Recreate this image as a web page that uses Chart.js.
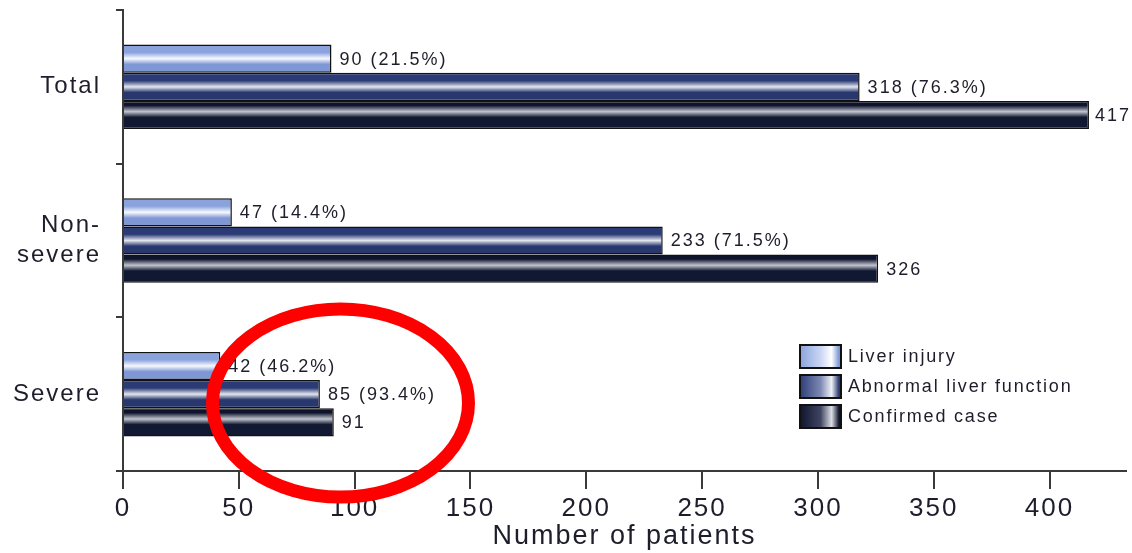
<!DOCTYPE html>
<html>
<head>
<meta charset="utf-8">
<script src="https://cdn.jsdelivr.net/npm/chart.js@4/dist/chart.umd.min.js"></script>
<style>
  body { margin: 0; background: #fff; }
  #wrap { width: 1132px; height: 553px; }
</style>
</head>
<body>
<div id="wrap"><canvas id="chartjs" width="1132" height="553"></canvas></div>
<script>
// data
const categories = ['Total', ['Non-', 'severe'], 'Severe'];
const seriesNames = ['Liver injury', 'Abnormal liver function', 'Confirmed case'];
const liverInjury = [90, 47, 42];
const abnormalLiver = [318, 233, 85];
const confirmedCase = [417, 326, 91];
const liverInjuryPct = ['21.5%', '14.4%', '46.2%'];
const abnormalLiverPct = ['76.3%', '71.5%', '93.4%'];
const xTicks = [0, 50, 100, 150, 200, 250, 300, 350, 400];

const textColor = '#1d1d2b';
const catPercent = 0.55;
// base, highlight, bottom, highlight position
const barColors = [
  ['#8aa3dd', '#f7f9ff', '#7f98d5', 0.5],
  ['#2b3b75', '#e4e6ee', '#28376e', 0.5],
  ['#0f142d', '#c2c5cf', '#111832', 0.38]
];

function barFill(c) {
  var chart = c.chart;
  var y = chart.scales.y;
  var col = barColors[c.datasetIndex];
  if (!y || c.dataIndex === undefined || !chart.chartArea) return col[0];
  var center = y.getPixelForValue(c.dataIndex);
  var group = (y.height / categories.length) * catPercent;
  var thick = group / 3;
  var top = center - group / 2 + c.datasetIndex * thick;
  var h = col[3];
  var g = chart.ctx.createLinearGradient(0, top, 0, top + thick);
  g.addColorStop(0, col[0]);
  g.addColorStop(h - 0.22, col[0]);
  g.addColorStop(h, col[1]);
  g.addColorStop(h + 0.2, col[2]);
  g.addColorStop(1, col[2]);
  return g;
}

const spacing = {
  id: 'spacing',
  beforeDraw(chart) { chart.ctx.letterSpacing = '2px'; }
};

// value labels at bar ends
const valueLabels = {
  id: 'valueLabels',
  afterDatasetsDraw(chart) {
    var ctx = chart.ctx;
    var pcts = [liverInjuryPct, abnormalLiverPct, null];
    ctx.save();
    ctx.letterSpacing = '2px';
    ctx.font = '18px "Liberation Sans", Arial, sans-serif';
    ctx.fillStyle = textColor;
    ctx.textBaseline = 'middle';
    ctx.textAlign = 'left';
    chart.data.datasets.forEach(function (ds, di) {
      chart.getDatasetMeta(di).data.forEach(function (bar, i) {
        var txt = String(ds.data[i]);
        if (pcts[di]) txt += ' (' + pcts[di][i] + ')';
        var w = ctx.measureText(txt).width;
        var x = Math.min(bar.x + 8, chart.width - w - 1);
        ctx.fillText(txt, x, bar.y + 1);
      });
    });
    ctx.restore();
  }
};

// legend inside the plot, bottom right
const boxLegend = {
  id: 'boxLegend',
  afterDraw(chart) {
    var ctx = chart.ctx;
    var legendStops = [
      ['#8ba4dd', '#c9d5f3', '#ffffff', '#7f98d4'],
      ['#2d3d77', '#7d88b2', '#eef0f5', '#2a3970'],
      ['#10152f', '#3f4560', '#dcdde2', '#10152f']
    ];
    ctx.save();
    ctx.letterSpacing = '1.8px';
    ctx.font = '18px "Liberation Sans", Arial, sans-serif';
    ctx.textBaseline = 'middle';
    seriesNames.forEach(function (name, i) {
      var x = 800, y = 345 + i * 30, w = 41, h = 23;
      var s = legendStops[i];
      var g = ctx.createLinearGradient(x, 0, x + w, 0);
      g.addColorStop(0, s[0]);
      g.addColorStop(0.5, s[1]);
      g.addColorStop(0.77, s[2]);
      g.addColorStop(0.95, s[3]);
      ctx.fillStyle = g;
      ctx.fillRect(x, y, w, h);
      ctx.lineWidth = 2;
      ctx.strokeStyle = '#111';
      ctx.strokeRect(x, y, w, h);
      ctx.fillStyle = textColor;
      ctx.fillText(name, x + 48, y + h / 2 + 1);
    });
    ctx.restore();
  }
};

// red ellipse drawn over the severe group
const redRing = {
  id: 'redRing',
  afterDraw(chart) {
    var ctx = chart.ctx;
    ctx.save();
    ctx.strokeStyle = '#ff0000';
    ctx.lineWidth = 13;
    ctx.beginPath();
    ctx.ellipse(340.5, 403, 128, 94, 0, 0, Math.PI * 2);
    ctx.stroke();
    ctx.restore();
  }
};

const datasets = [liverInjury, abnormalLiver, confirmedCase].map(function (vals, i) {
  return {
    label: seriesNames[i],
    data: vals,
    backgroundColor: barFill,
    borderColor: '#111',
    borderWidth: 1.5,
    categoryPercentage: catPercent,
    barPercentage: 1.0
  };
});

var Dchart = new Chart(document.getElementById('chartjs'), {
  type: 'bar',
  data: { labels: categories, datasets: datasets },
  options: {
    indexAxis: 'y',
    responsive: false,
    animation: false,
    layout: { padding: { top: 10, right: 6, left: 0, bottom: 0 } },
    plugins: { legend: { display: false }, tooltip: { enabled: false } },
    scales: {
      x: {
        min: 0,
        max: 433,
        afterBuildTicks: function (s) { s.ticks = xTicks.map(function (v) { return { value: v }; }); },
        afterFit: function (s) { s.height = 82; s.paddingLeft = 0; s.paddingRight = 0; },
        border: { color: '#3a3a3a', width: 2 },
        grid: { drawOnChartArea: false, tickLength: 18, color: '#3a3a3a', lineWidth: 2 },
        ticks: {
          color: textColor,
          padding: 4,
          maxRotation: 0,
          font: { family: '"Liberation Sans", Arial, sans-serif', size: 26 }
        },
        title: {
          display: true,
          text: 'Number of patients',
          color: textColor,
          padding: { top: 0, bottom: 0 },
          font: { family: '"Liberation Sans", Arial, sans-serif', size: 27 }
        }
      },
      y: {
        afterFit: function (s) { s.width = 123; s.paddingTop = 0; s.paddingBottom = 0; },
        border: { color: '#3a3a3a', width: 2 },
        grid: { drawOnChartArea: false, tickLength: 7, color: '#3a3a3a', lineWidth: 2, offset: true },
        ticks: {
          color: textColor,
          padding: 15,
          font: { family: '"Liberation Sans", Arial, sans-serif', size: 24, lineHeight: 1.25 }
        }
      }
    }
  },
  plugins: [spacing, valueLabels, boxLegend, redRing]
});
</script>
</body>
</html>
